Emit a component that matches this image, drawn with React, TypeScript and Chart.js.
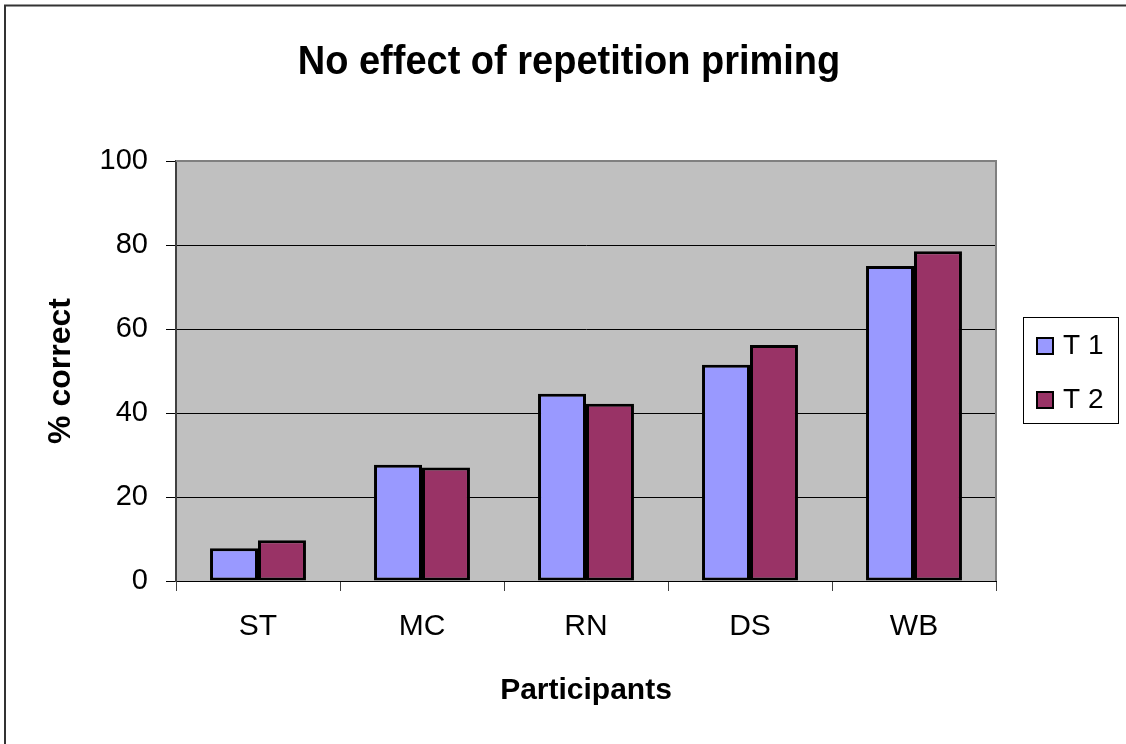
import { useEffect, useRef } from "react";
import { Chart, registerables } from "chart.js";

Chart.register(...registerables);

const categories = ["ST", "MC", "RN", "DS", "WB"];
const t1Values = [7.8, 27.7, 44.6, 51.5, 75.0];
const t2Values = [9.7, 27.0, 42.2, 56.2, 78.5];
const seriesLabels = ["T 1", "T 2"];
const seriesColors = ["#9999FF", "#993366"];
const yTicks = [0, 20, 40, 60, 80, 100];
const chartTitle = "No effect of repetition priming";
const xTitle = "Participants";
const yTitle = "% correct";

const FONT = '"Liberation Sans", Arial, Helvetica, sans-serif';

const decor = {
  id: "decor",
  beforeDraw(chart: any) {
    const { ctx, chartArea: a } = chart;
    ctx.save();
    ctx.fillStyle = "#ffffff";
    ctx.fillRect(0, 0, chart.width, chart.height);
    ctx.fillStyle = "#C0C0C0";
    ctx.fillRect(a.left, a.top, a.right - a.left, a.bottom - a.top);
    ctx.restore();
  },
  afterDraw(chart: any) {
    const { ctx, chartArea: a } = chart;
    ctx.save();
    // plot area border (top & right)
    ctx.strokeStyle = "#808080";
    ctx.lineWidth = 2;
    ctx.beginPath();
    ctx.moveTo(a.left, a.top);
    ctx.lineTo(a.right, a.top);
    ctx.lineTo(a.right, a.bottom);
    ctx.stroke();
    // outer chart border
    ctx.strokeStyle = "#333333";
    ctx.lineWidth = 2;
    ctx.beginPath();
    ctx.moveTo(5, chart.height);
    ctx.lineTo(5, 5.5);
    ctx.lineTo(chart.width, 5.5);
    ctx.stroke();
    // title
    ctx.fillStyle = "#000";
    ctx.textAlign = "center";
    ctx.textBaseline = "alphabetic";
    ctx.save();
    ctx.translate(569, 74);
    ctx.scale(1, 1.05);
    ctx.font = `bold 38px ${FONT}`;
    ctx.fillText(chartTitle, 0, 0);
    ctx.restore();
    // x axis title
    ctx.font = `bold 30px ${FONT}`;
    ctx.fillText(xTitle, (a.left + a.right) / 2, 699);
    // legend
    const lx = 1023.5, ly = 317.5, lw = 95, lh = 106;
    ctx.fillStyle = "#fff";
    ctx.fillRect(lx, ly, lw, lh);
    ctx.strokeStyle = "#000";
    ctx.lineWidth = 1;
    ctx.strokeRect(lx, ly, lw, lh);
    chart.data.datasets.forEach((ds: any, i: number) => {
      const sy = 337 + i * 54;
      ctx.fillStyle = ds.backgroundColor;
      ctx.fillRect(1036, sy, 18, 18);
      ctx.strokeStyle = "#000";
      ctx.lineWidth = 2;
      ctx.strokeRect(1037, sy + 1, 16, 16);
      ctx.fillStyle = "#000";
      ctx.textAlign = "left";
      ctx.textBaseline = "middle";
      ctx.font = `28px ${FONT}`;
      ctx.fillText(ds.label, 1063, sy + 9);
    });
    ctx.restore();
  },
};

export default function App() {
  const ref = useRef<HTMLCanvasElement | null>(null);

  useEffect(() => {
    document.body.style.margin = "0";
    if (!ref.current) return;
    const chart = new Chart(ref.current, {
      type: "bar",
      data: {
        labels: categories,
        datasets: [
          {
            label: seriesLabels[0],
            data: t1Values,
            backgroundColor: seriesColors[0],
            borderColor: "#000",
            borderWidth: 3,
            borderSkipped: false,
            categoryPercentage: 0.585,
            barPercentage: 1,
          },
          {
            label: seriesLabels[1],
            data: t2Values,
            backgroundColor: seriesColors[1],
            borderColor: "#000",
            borderWidth: 3,
            borderSkipped: false,
            categoryPercentage: 0.585,
            barPercentage: 1,
          },
        ],
      },
      options: {
        animation: false,
        responsive: false,
        maintainAspectRatio: false,
        layout: { padding: { left: 0, top: 161, right: 130, bottom: 0 } },
        plugins: {
          legend: { display: false },
          title: { display: false },
          tooltip: { enabled: false },
        },
        scales: {
          x: {
            type: "category",
            grid: {
              offset: true,
              drawOnChartArea: false,
              drawTicks: true,
              tickLength: 10,
              color: "#404040",
            },
            border: { display: true, color: "#000", width: 1 },
            ticks: {
              color: "#000",
              font: { size: 30, family: FONT },
              padding: 18,
            },
            afterFit(s: any) {
              s.height = 163;
            },
          },
          y: {
            min: 0,
            max: 100,
            afterBuildTicks(s: any) {
              s.ticks = yTicks.map((v) => ({ value: v }));
            },
            ticks: {
              color: "#000",
              font: { size: 29, family: FONT },
              padding: 18,
            },
            grid: {
              color: (c: any) =>
                c.tick && c.tick.value === 100 ? "rgba(0,0,0,0)" : "#000",
              tickColor: "#000",
              tickLength: 10,
              lineWidth: 1,
            },
            border: { display: true, color: "#404040", width: 2 },
            title: {
              display: true,
              text: yTitle,
              color: "#000",
              font: { size: 32, weight: "bold", family: FONT },
              padding: { top: 42, bottom: 0 },
            },
            afterFit(s: any) {
              s.width = 176;
            },
          },
        },
      },
      plugins: [decor],
    } as any);
    return () => chart.destroy();
  }, []);

  return (
    <div style={{ position: "absolute", left: 0, top: 0, width: 1126, height: 744 }}>
      <canvas ref={ref} width={1126} height={744} style={{ width: 1126, height: 744, display: "block" }} />
    </div>
  );
}
